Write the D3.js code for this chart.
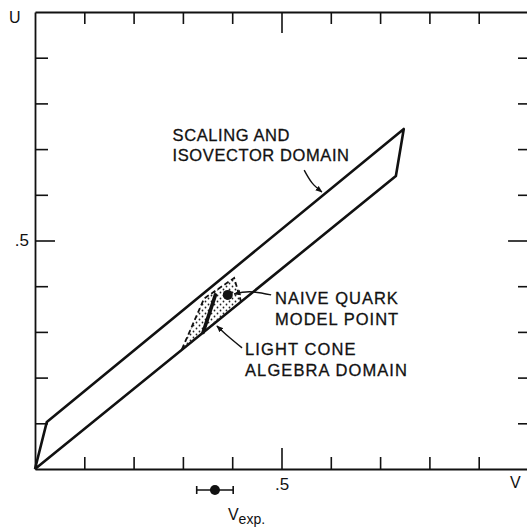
<!DOCTYPE html>
<html>
<head>
<meta charset="utf-8">
<script src="https://cdn.jsdelivr.net/npm/d3@7"></script>
<style>
  body { margin: 0; background: #fff; }
  text { font-family: "Liberation Sans", Arial, sans-serif; fill: #111; }
</style>
</head>
<body>
<svg width="527" height="529"></svg>
<script>
// tick positions on all four sides (V and U run 0..1)
var tickVals = [0.1, 0.2, 0.3, 0.4, 0.5, 0.6, 0.7, 0.8, 0.9];

// scaling and isovector domain (v, u)
var scalingDomain = [[0, 0], [0.024, 0.103], [0.748, 0.744], [0.732, 0.641]];

// light cone algebra domain (stippled), the solid part of it
var lightConeDomain = [[0.298, 0.262], [0.343, 0.373], [0.404, 0.418], [0.418, 0.366]];
var lightConeLine = [[0.341, 0.299], [0.366, 0.381]];

// naive quark model point
var quarkPoint = [0.391, 0.381];

// experimental V with error
var vExp = 0.365, vExpErr = 0.037;

// annotation arrows (v, u)
var arrowScaling = [[0.546, 0.654], [0.562, 0.626], [0.582, 0.606]];
var arrowQuark = [[0.479, 0.381], [0.436, 0.388], [0.404, 0.383]];
var arrowLightCone = [[0.420, 0.265], [0.391, 0.291], [0.369, 0.313]];

// labels: text lines and their anchor (v, u of first baseline)
var labelScaling = ["SCALING AND", "ISOVECTOR DOMAIN"], labelScalingAt = [0.279, 0.718];
var labelQuark = ["NAIVE QUARK", "MODEL POINT"], labelQuarkAt = [0.487, 0.360];
var labelLightCone = ["LIGHT CONE", "ALGEBRA DOMAIN"], labelLightConeAt = [0.426, 0.249];

var svg = d3.select("svg"),
    width = +svg.attr("width"),
    height = +svg.attr("height");

var x = d3.scaleLinear().domain([0, 1]).range([35, 528]);
var y = d3.scaleLinear().domain([0, 1]).range([469, 12]);

var fmt = function(d) { return d === 0.5 ? ".5" : ""; };
var longTick = function(d) { return d === 0.5 ? -21 : -12; };

function styleAxis(g) {
  g.select(".domain").attr("stroke", "#111").attr("stroke-width", 1.8);
  g.selectAll(".tick line").attr("stroke", "#111").attr("stroke-width", 1.6);
  g.selectAll(".tick text").style("font-size", "17px").attr("fill", "#111")
    .style("font-family", "'Liberation Sans', Arial, sans-serif");
}

var gx = svg.append("g").attr("transform", "translate(0," + y(0) + ")")
    .call(d3.axisBottom(x).tickValues(tickVals).tickSize(-12).tickSizeOuter(0).tickPadding(9).tickFormat(fmt));
gx.selectAll(".tick line").attr("y2", function(d) { return longTick(d); });
styleAxis(gx);

var gxt = svg.append("g").attr("transform", "translate(0," + y(1) + ")")
    .call(d3.axisTop(x).tickValues(tickVals).tickSize(-12).tickSizeOuter(0).tickFormat(""));
gxt.selectAll(".tick line").attr("y2", function(d) { return -longTick(d); });
styleAxis(gxt);

var gy = svg.append("g").attr("transform", "translate(" + x(0) + ",0)")
    .call(d3.axisLeft(y).tickValues(tickVals).tickSize(-13).tickSizeOuter(0).tickPadding(6).tickFormat(fmt));
gy.selectAll(".tick line").attr("x2", function(d) { return d === 0.5 ? 20 : 13; });
styleAxis(gy);

var gyr = svg.append("g").attr("transform", "translate(" + x(1) + ",0)")
    .call(d3.axisRight(y).tickValues(tickVals).tickSize(-10).tickSizeOuter(0).tickFormat(""));
gyr.selectAll(".tick line").attr("x2", function(d) { return d === 0.5 ? -20 : -10; });
styleAxis(gyr);

// axis names
svg.append("text").attr("x", 9).attr("y", 23).style("font-size", "16px").text("U");
svg.append("text").attr("x", 510).attr("y", 488).style("font-size", "16px").text("V");

// defs: stipple and arrowhead
var defs = svg.append("defs");
var pat = defs.append("pattern").attr("id", "stipple").attr("patternUnits", "userSpaceOnUse")
    .attr("width", 6).attr("height", 6);
pat.append("circle").attr("cx", 1.5).attr("cy", 1.5).attr("r", 0.9).attr("fill", "#222");
pat.append("circle").attr("cx", 4.5).attr("cy", 4.5).attr("r", 0.9).attr("fill", "#222");

defs.append("marker").attr("id", "head").attr("viewBox", "0 0 10 10")
    .attr("refX", 9).attr("refY", 5).attr("markerWidth", 7).attr("markerHeight", 7)
    .attr("markerUnits", "userSpaceOnUse").attr("orient", "auto")
  .append("path").attr("d", "M0,1L10,5L0,9Z").attr("fill", "#111");

var line = d3.line().x(function(d) { return x(d[0]); }).y(function(d) { return y(d[1]); });
var curve = d3.line().x(function(d) { return x(d[0]); }).y(function(d) { return y(d[1]); }).curve(d3.curveNatural);

// scaling and isovector domain
svg.append("path").datum(scalingDomain.concat([scalingDomain[0]]))
    .attr("d", line).attr("fill", "none").attr("stroke", "#111")
    .attr("stroke-width", 2.6).attr("stroke-linejoin", "round");

// light cone algebra domain
svg.append("path").datum(lightConeDomain)
    .attr("d", line).attr("fill", "url(#stipple)").attr("stroke", "none");
svg.append("path").datum(lightConeDomain)
    .attr("d", line).attr("fill", "none").attr("stroke", "#111")
    .attr("stroke-width", 1.8).attr("stroke-dasharray", "5,3");
svg.append("path").datum(lightConeLine)
    .attr("d", line).attr("fill", "none").attr("stroke", "#111")
    .attr("stroke-width", 3.6).attr("stroke-linecap", "round");

// naive quark model point
svg.append("circle").attr("cx", x(quarkPoint[0])).attr("cy", y(quarkPoint[1]))
    .attr("r", 5).attr("fill", "#111");

// arrows
[arrowScaling, arrowQuark, arrowLightCone].forEach(function(a) {
  svg.append("path").datum(a).attr("d", curve).attr("fill", "none")
      .attr("stroke", "#111").attr("stroke-width", 1.4).attr("marker-end", "url(#head)");
});

// labels
function label(lines, at, spacing) {
  var t = svg.append("text").attr("x", x(at[0])).attr("y", y(at[1]))
      .style("font-size", "16.5px").style("letter-spacing", spacing + "px")
      .attr("stroke", "#111").attr("stroke-width", 0.3);
  lines.forEach(function(s, i) {
    t.append("tspan").attr("x", x(at[0])).attr("dy", i === 0 ? 0 : 20.5).text(s);
  });
}
label(labelScaling, labelScalingAt, 0.6);
label(labelQuark, labelQuarkAt, 1.0);
label(labelLightCone, labelLightConeAt, 1.1);

// experimental V below the axis
var ey = y(0) + 21;
var eg = svg.append("g");
eg.append("line").attr("x1", x(vExp - vExpErr)).attr("x2", x(vExp + vExpErr))
    .attr("y1", ey).attr("y2", ey).attr("stroke", "#111").attr("stroke-width", 1.6);
[vExp - vExpErr, vExp + vExpErr].forEach(function(v) {
  eg.append("line").attr("x1", x(v)).attr("x2", x(v)).attr("y1", ey - 4).attr("y2", ey + 4)
      .attr("stroke", "#111").attr("stroke-width", 1.6);
});
eg.append("circle").attr("cx", x(vExp)).attr("cy", ey).attr("r", 5).attr("fill", "#111");

var vt = svg.append("text").attr("x", x(vExp) + 13).attr("y", 520).style("font-size", "16px");
vt.append("tspan").text("V");
vt.append("tspan").attr("dy", 4).style("font-size", "14px").text("exp.");
</script>
</body>
</html>
